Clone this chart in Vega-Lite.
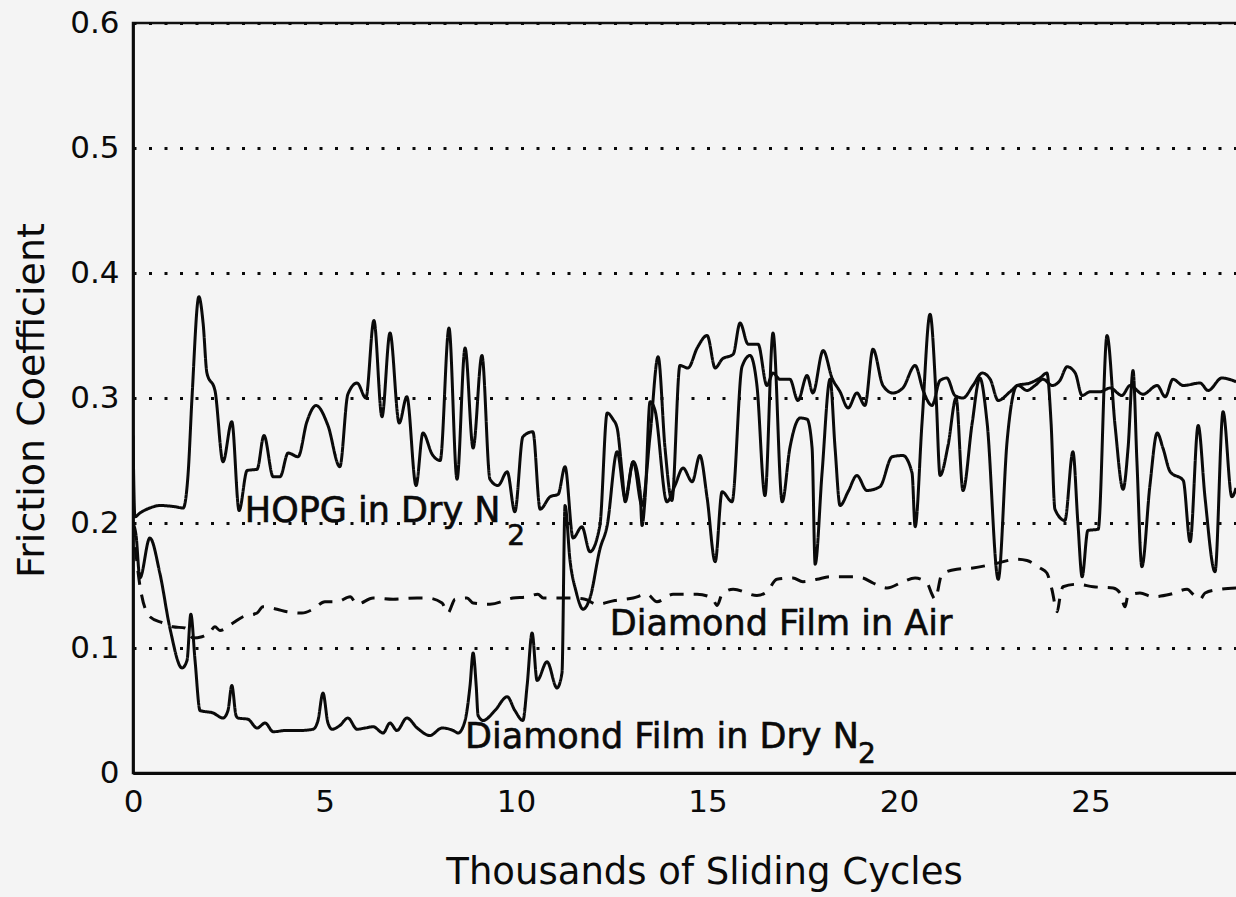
{
"$schema": "https://vega.github.io/schema/vega-lite/v6.json",
"width": 1105, "height": 750,
"autosize": {"type": "none"},
"padding": {"left": 133, "top": 23, "right": 0, "bottom": 124},
"background": "#f4f4f4",
"config": {"view": {"stroke": "#111", "strokeWidth": 2.5}, "font": "DejaVu Sans"},
"datasets": {
"curves": [
{"s":"HOPG","x":0,"y":0.27},{"s":"HOPG","x":0.05,"y":0.205},{"s":"HOPG","x":0.18,"y":0.208},{"s":"HOPG","x":0.44,"y":0.212},{"s":"HOPG","x":0.70,"y":0.214},{"s":"HOPG","x":1.10,"y":0.213},{"s":"HOPG","x":1.31,"y":0.212},{"s":"HOPG","x":1.44,"y":0.24},{"s":"HOPG","x":1.54,"y":0.3},{"s":"HOPG","x":1.72,"y":0.381},{"s":"HOPG","x":1.83,"y":0.36},{"s":"HOPG","x":1.93,"y":0.32},{"s":"HOPG","x":2.14,"y":0.306},{"s":"HOPG","x":2.35,"y":0.249},{"s":"HOPG","x":2.58,"y":0.281},{"s":"HOPG","x":2.77,"y":0.21},{"s":"HOPG","x":2.98,"y":0.242},{"s":"HOPG","x":3.24,"y":0.243},{"s":"HOPG","x":3.42,"y":0.27},{"s":"HOPG","x":3.66,"y":0.237},{"s":"HOPG","x":3.84,"y":0.237},{"s":"HOPG","x":4.05,"y":0.256},{"s":"HOPG","x":4.31,"y":0.253},{"s":"HOPG","x":4.54,"y":0.281},{"s":"HOPG","x":4.78,"y":0.294},{"s":"HOPG","x":5.09,"y":0.278},{"s":"HOPG","x":5.40,"y":0.245},{"s":"HOPG","x":5.61,"y":0.303},{"s":"HOPG","x":5.85,"y":0.312},{"s":"HOPG","x":6.08,"y":0.3},{"s":"HOPG","x":6.29,"y":0.362},{"s":"HOPG","x":6.50,"y":0.285},{"s":"HOPG","x":6.71,"y":0.352},{"s":"HOPG","x":6.95,"y":0.28},{"s":"HOPG","x":7.15,"y":0.301},{"s":"HOPG","x":7.39,"y":0.23},{"s":"HOPG","x":7.57,"y":0.272},{"s":"HOPG","x":7.81,"y":0.255},{"s":"HOPG","x":8.02,"y":0.25},{"s":"HOPG","x":8.25,"y":0.356},{"s":"HOPG","x":8.46,"y":0.235},{"s":"HOPG","x":8.67,"y":0.34},{"s":"HOPG","x":8.88,"y":0.26},{"s":"HOPG","x":9.11,"y":0.334},{"s":"HOPG","x":9.32,"y":0.235},{"s":"HOPG","x":9.53,"y":0.23},{"s":"HOPG","x":9.77,"y":0.241},{"s":"HOPG","x":9.97,"y":0.209},{"s":"HOPG","x":10.18,"y":0.269},{"s":"HOPG","x":10.44,"y":0.273},{"s":"HOPG","x":10.63,"y":0.211},{"s":"HOPG","x":10.89,"y":0.221},{"s":"HOPG","x":11.10,"y":0.223},{"s":"HOPG","x":11.28,"y":0.245},{"s":"HOPG","x":11.49,"y":0.188},{"s":"HOPG","x":11.72,"y":0.197},{"s":"HOPG","x":11.93,"y":0.177},{"s":"HOPG","x":12.19,"y":0.198},{"s":"HOPG","x":12.38,"y":0.288},{"s":"HOPG","x":12.53,"y":0.283},{"s":"HOPG","x":12.64,"y":0.276},{"s":"HOPG","x":12.77,"y":0.24},{"s":"HOPG","x":12.85,"y":0.217},{"s":"HOPG","x":13.06,"y":0.249},{"s":"HOPG","x":13.29,"y":0.214},{"s":"HOPG","x":13.50,"y":0.27},{"s":"HOPG","x":13.71,"y":0.333},{"s":"HOPG","x":13.89,"y":0.26},{"s":"HOPG","x":14.07,"y":0.218},{"s":"HOPG","x":14.28,"y":0.326},{"s":"HOPG","x":14.49,"y":0.324},{"s":"HOPG","x":14.73,"y":0.34},{"s":"HOPG","x":14.99,"y":0.35},{"s":"HOPG","x":15.20,"y":0.324},{"s":"HOPG","x":15.38,"y":0.331},{"s":"HOPG","x":15.67,"y":0.335},{"s":"HOPG","x":15.85,"y":0.36},{"s":"HOPG","x":16.06,"y":0.343},{"s":"HOPG","x":16.32,"y":0.343},{"s":"HOPG","x":16.55,"y":0.31},{"s":"HOPG","x":16.71,"y":0.32},{"s":"HOPG","x":16.89,"y":0.315},{"s":"HOPG","x":17.15,"y":0.315},{"s":"HOPG","x":17.36,"y":0.298},{"s":"HOPG","x":17.60,"y":0.318},{"s":"HOPG","x":17.75,"y":0.304},{"s":"HOPG","x":18.02,"y":0.338},{"s":"HOPG","x":18.25,"y":0.316},{"s":"HOPG","x":18.46,"y":0.305},{"s":"HOPG","x":18.67,"y":0.292},{"s":"HOPG","x":18.90,"y":0.304},{"s":"HOPG","x":19.11,"y":0.294},{"s":"HOPG","x":19.32,"y":0.339},{"s":"HOPG","x":19.58,"y":0.31},{"s":"HOPG","x":19.84,"y":0.304},{"s":"HOPG","x":20.10,"y":0.308},{"s":"HOPG","x":20.42,"y":0.326},{"s":"HOPG","x":20.63,"y":0.306},{"s":"HOPG","x":20.86,"y":0.294},{"s":"HOPG","x":21.07,"y":0.314},{"s":"HOPG","x":21.25,"y":0.316},{"s":"HOPG","x":21.46,"y":0.302},{"s":"HOPG","x":21.67,"y":0.3},{"s":"HOPG","x":21.93,"y":0.31},{"s":"HOPG","x":22.17,"y":0.32},{"s":"HOPG","x":22.38,"y":0.315},{"s":"HOPG","x":22.59,"y":0.298},{"s":"HOPG","x":22.90,"y":0.305},{"s":"HOPG","x":23.11,"y":0.31},{"s":"HOPG","x":23.34,"y":0.306},{"s":"HOPG","x":23.55,"y":0.31},{"s":"HOPG","x":23.76,"y":0.315},{"s":"HOPG","x":24.00,"y":0.31},{"s":"HOPG","x":24.20,"y":0.314},{"s":"HOPG","x":24.39,"y":0.325},{"s":"HOPG","x":24.60,"y":0.32},{"s":"HOPG","x":24.78,"y":0.302},{"s":"HOPG","x":24.99,"y":0.305},{"s":"HOPG","x":25.25,"y":0.305},{"s":"HOPG","x":25.51,"y":0.308},{"s":"HOPG","x":25.82,"y":0.302},{"s":"HOPG","x":26.03,"y":0.31},{"s":"HOPG","x":26.37,"y":0.303},{"s":"HOPG","x":26.74,"y":0.31},{"s":"HOPG","x":26.95,"y":0.301},{"s":"HOPG","x":27.15,"y":0.315},{"s":"HOPG","x":27.42,"y":0.31},{"s":"HOPG","x":27.86,"y":0.312},{"s":"HOPG","x":28.07,"y":0.306},{"s":"HOPG","x":28.43,"y":0.316},{"s":"HOPG","x":28.80,"y":0.313},
{"s":"DN2","x":0,"y":0.2},{"s":"DN2","x":0.08,"y":0.19},{"s":"DN2","x":0.18,"y":0.156},{"s":"DN2","x":0.44,"y":0.188},{"s":"DN2","x":0.70,"y":0.16},{"s":"DN2","x":0.97,"y":0.115},{"s":"DN2","x":1.28,"y":0.084},{"s":"DN2","x":1.41,"y":0.09},{"s":"DN2","x":1.51,"y":0.127},{"s":"DN2","x":1.62,"y":0.09},{"s":"DN2","x":1.75,"y":0.05},{"s":"DN2","x":2.09,"y":0.048},{"s":"DN2","x":2.35,"y":0.044},{"s":"DN2","x":2.48,"y":0.05},{"s":"DN2","x":2.58,"y":0.07},{"s":"DN2","x":2.69,"y":0.046},{"s":"DN2","x":2.74,"y":0.044},{"s":"DN2","x":3.00,"y":0.043},{"s":"DN2","x":3.24,"y":0.036},{"s":"DN2","x":3.45,"y":0.04},{"s":"DN2","x":3.66,"y":0.033},{"s":"DN2","x":3.99,"y":0.034},{"s":"DN2","x":4.36,"y":0.034},{"s":"DN2","x":4.70,"y":0.035},{"s":"DN2","x":4.83,"y":0.042},{"s":"DN2","x":4.96,"y":0.064},{"s":"DN2","x":5.09,"y":0.04},{"s":"DN2","x":5.20,"y":0.035},{"s":"DN2","x":5.40,"y":0.038},{"s":"DN2","x":5.61,"y":0.044},{"s":"DN2","x":5.85,"y":0.035},{"s":"DN2","x":6.06,"y":0.036},{"s":"DN2","x":6.27,"y":0.037},{"s":"DN2","x":6.53,"y":0.032},{"s":"DN2","x":6.71,"y":0.04},{"s":"DN2","x":6.89,"y":0.034},{"s":"DN2","x":7.15,"y":0.044},{"s":"DN2","x":7.42,"y":0.036},{"s":"DN2","x":7.75,"y":0.03},{"s":"DN2","x":8.07,"y":0.036},{"s":"DN2","x":8.36,"y":0.034},{"s":"DN2","x":8.49,"y":0.032},{"s":"DN2","x":8.67,"y":0.042},{"s":"DN2","x":8.80,"y":0.07},{"s":"DN2","x":8.88,"y":0.096},{"s":"DN2","x":8.96,"y":0.07},{"s":"DN2","x":9.01,"y":0.046},{"s":"DN2","x":9.14,"y":0.042},{"s":"DN2","x":9.45,"y":0.05},{"s":"DN2","x":9.77,"y":0.061},{"s":"DN2","x":9.97,"y":0.05},{"s":"DN2","x":10.18,"y":0.042},{"s":"DN2","x":10.29,"y":0.07},{"s":"DN2","x":10.42,"y":0.112},{"s":"DN2","x":10.55,"y":0.074},{"s":"DN2","x":10.81,"y":0.089},{"s":"DN2","x":11.07,"y":0.068},{"s":"DN2","x":11.20,"y":0.08},{"s":"DN2","x":11.28,"y":0.214},{"s":"DN2","x":11.41,"y":0.17},{"s":"DN2","x":11.57,"y":0.145},{"s":"DN2","x":11.75,"y":0.131},{"s":"DN2","x":11.93,"y":0.14},{"s":"DN2","x":12.19,"y":0.179},{"s":"DN2","x":12.38,"y":0.198},{"s":"DN2","x":12.64,"y":0.257},{"s":"DN2","x":12.85,"y":0.22},{"s":"DN2","x":13.06,"y":0.249},{"s":"DN2","x":13.24,"y":0.225},{"s":"DN2","x":13.29,"y":0.198},{"s":"DN2","x":13.37,"y":0.22},{"s":"DN2","x":13.50,"y":0.297},{"s":"DN2","x":13.63,"y":0.29},{"s":"DN2","x":13.94,"y":0.217},{"s":"DN2","x":14.15,"y":0.23},{"s":"DN2","x":14.36,"y":0.244},{"s":"DN2","x":14.60,"y":0.233},{"s":"DN2","x":14.80,"y":0.254},{"s":"DN2","x":14.99,"y":0.22},{"s":"DN2","x":15.20,"y":0.169},{"s":"DN2","x":15.38,"y":0.225},{"s":"DN2","x":15.64,"y":0.217},{"s":"DN2","x":15.90,"y":0.325},{"s":"DN2","x":16.11,"y":0.334},{"s":"DN2","x":16.29,"y":0.31},{"s":"DN2","x":16.50,"y":0.222},{"s":"DN2","x":16.71,"y":0.352},{"s":"DN2","x":16.95,"y":0.217},{"s":"DN2","x":17.15,"y":0.26},{"s":"DN2","x":17.42,"y":0.284},{"s":"DN2","x":17.60,"y":0.283},{"s":"DN2","x":17.73,"y":0.26},{"s":"DN2","x":17.81,"y":0.167},{"s":"DN2","x":17.99,"y":0.24},{"s":"DN2","x":18.20,"y":0.315},{"s":"DN2","x":18.33,"y":0.26},{"s":"DN2","x":18.46,"y":0.214},{"s":"DN2","x":18.67,"y":0.225},{"s":"DN2","x":18.90,"y":0.238},{"s":"DN2","x":19.16,"y":0.226},{"s":"DN2","x":19.50,"y":0.229},{"s":"DN2","x":19.82,"y":0.253},{"s":"DN2","x":20.10,"y":0.254},{"s":"DN2","x":20.34,"y":0.24},{"s":"DN2","x":20.42,"y":0.197},{"s":"DN2","x":20.60,"y":0.28},{"s":"DN2","x":20.81,"y":0.367},{"s":"DN2","x":20.97,"y":0.3},{"s":"DN2","x":21.07,"y":0.238},{"s":"DN2","x":21.28,"y":0.262},{"s":"DN2","x":21.49,"y":0.3},{"s":"DN2","x":21.67,"y":0.226},{"s":"DN2","x":21.91,"y":0.28},{"s":"DN2","x":22.11,"y":0.316},{"s":"DN2","x":22.30,"y":0.28},{"s":"DN2","x":22.59,"y":0.155},{"s":"DN2","x":22.82,"y":0.265},{"s":"DN2","x":23.08,"y":0.31},{"s":"DN2","x":23.42,"y":0.312},{"s":"DN2","x":23.68,"y":0.316},{"s":"DN2","x":23.86,"y":0.32},{"s":"DN2","x":23.97,"y":0.28},{"s":"DN2","x":24.07,"y":0.211},{"s":"DN2","x":24.33,"y":0.202},{"s":"DN2","x":24.54,"y":0.257},{"s":"DN2","x":24.67,"y":0.2},{"s":"DN2","x":24.78,"y":0.157},{"s":"DN2","x":24.93,"y":0.194},{"s":"DN2","x":25.20,"y":0.195},{"s":"DN2","x":25.43,"y":0.35},{"s":"DN2","x":25.64,"y":0.278},{"s":"DN2","x":25.85,"y":0.227},{"s":"DN2","x":25.98,"y":0.26},{"s":"DN2","x":26.11,"y":0.322},{"s":"DN2","x":26.21,"y":0.25},{"s":"DN2","x":26.34,"y":0.165},{"s":"DN2","x":26.55,"y":0.23},{"s":"DN2","x":26.74,"y":0.272},{"s":"DN2","x":26.89,"y":0.26},{"s":"DN2","x":27.08,"y":0.241},{"s":"DN2","x":27.42,"y":0.234},{"s":"DN2","x":27.60,"y":0.185},{"s":"DN2","x":27.81,"y":0.278},{"s":"DN2","x":27.99,"y":0.22},{"s":"DN2","x":28.25,"y":0.161},{"s":"DN2","x":28.46,"y":0.289},{"s":"DN2","x":28.69,"y":0.221},{"s":"DN2","x":28.80,"y":0.228},
{"s":"Air","x":0,"y":0.2},{"s":"Air","x":0.08,"y":0.175},{"s":"Air","x":0.18,"y":0.15},{"s":"Air","x":0.44,"y":0.125},{"s":"Air","x":0.78,"y":0.12},{"s":"Air","x":1.04,"y":0.117},{"s":"Air","x":1.36,"y":0.116},{"s":"Air","x":1.57,"y":0.108},{"s":"Air","x":1.80,"y":0.109},{"s":"Air","x":2.01,"y":0.113},{"s":"Air","x":2.14,"y":0.117},{"s":"Air","x":2.27,"y":0.114},{"s":"Air","x":2.61,"y":0.12},{"s":"Air","x":2.87,"y":0.125},{"s":"Air","x":3.24,"y":0.128},{"s":"Air","x":3.39,"y":0.133},{"s":"Air","x":3.76,"y":0.131},{"s":"Air","x":4.02,"y":0.129},{"s":"Air","x":4.41,"y":0.128},{"s":"Air","x":4.70,"y":0.131},{"s":"Air","x":5.01,"y":0.137},{"s":"Air","x":5.33,"y":0.137},{"s":"Air","x":5.67,"y":0.141},{"s":"Air","x":5.85,"y":0.135},{"s":"Air","x":6.27,"y":0.14},{"s":"Air","x":6.79,"y":0.139},{"s":"Air","x":7.42,"y":0.14},{"s":"Air","x":7.68,"y":0.14},{"s":"Air","x":8.07,"y":0.136},{"s":"Air","x":8.22,"y":0.128},{"s":"Air","x":8.41,"y":0.139},{"s":"Air","x":8.72,"y":0.14},{"s":"Air","x":8.88,"y":0.136},{"s":"Air","x":9.32,"y":0.135},{"s":"Air","x":9.92,"y":0.14},{"s":"Air","x":10.29,"y":0.141},{"s":"Air","x":10.57,"y":0.143},{"s":"Air","x":10.71,"y":0.14},{"s":"Air","x":11.41,"y":0.14},{"s":"Air","x":11.80,"y":0.139},{"s":"Air","x":12.11,"y":0.135},{"s":"Air","x":12.58,"y":0.138},{"s":"Air","x":13.06,"y":0.14},{"s":"Air","x":13.42,"y":0.143},{"s":"Air","x":13.68,"y":0.137},{"s":"Air","x":14.10,"y":0.143},{"s":"Air","x":14.73,"y":0.143},{"s":"Air","x":15.12,"y":0.14},{"s":"Air","x":15.25,"y":0.134},{"s":"Air","x":15.38,"y":0.143},{"s":"Air","x":15.67,"y":0.147},{"s":"Air","x":16.29,"y":0.142},{"s":"Air","x":16.55,"y":0.145},{"s":"Air","x":16.81,"y":0.155},{"s":"Air","x":17.23,"y":0.156},{"s":"Air","x":17.49,"y":0.153},{"s":"Air","x":17.86,"y":0.155},{"s":"Air","x":18.20,"y":0.157},{"s":"Air","x":18.80,"y":0.157},{"s":"Air","x":19.06,"y":0.156},{"s":"Air","x":19.32,"y":0.152},{"s":"Air","x":19.69,"y":0.148},{"s":"Air","x":20.10,"y":0.153},{"s":"Air","x":20.42,"y":0.156},{"s":"Air","x":20.73,"y":0.152},{"s":"Air","x":20.86,"y":0.143},{"s":"Air","x":20.94,"y":0.139},{"s":"Air","x":21.12,"y":0.159},{"s":"Air","x":21.51,"y":0.163},{"s":"Air","x":21.93,"y":0.164},{"s":"Air","x":22.45,"y":0.167},{"s":"Air","x":23.08,"y":0.171},{"s":"Air","x":23.34,"y":0.17},{"s":"Air","x":23.68,"y":0.164},{"s":"Air","x":23.86,"y":0.16},{"s":"Air","x":23.99,"y":0.147},{"s":"Air","x":24.13,"y":0.129},{"s":"Air","x":24.20,"y":0.14},{"s":"Air","x":24.28,"y":0.149},{"s":"Air","x":24.65,"y":0.151},{"s":"Air","x":25.07,"y":0.149},{"s":"Air","x":25.59,"y":0.148},{"s":"Air","x":25.77,"y":0.144},{"s":"Air","x":25.90,"y":0.133},{"s":"Air","x":25.98,"y":0.142},{"s":"Air","x":26.29,"y":0.144},{"s":"Air","x":26.63,"y":0.141},{"s":"Air","x":27.08,"y":0.143},{"s":"Air","x":27.52,"y":0.147},{"s":"Air","x":27.68,"y":0.143},{"s":"Air","x":27.86,"y":0.139},{"s":"Air","x":27.99,"y":0.144},{"s":"Air","x":28.38,"y":0.147},{"s":"Air","x":28.80,"y":0.148}
],
"labels": [
{"label":"HOPG in Dry N","x":2.92,"y":0.2008},
{"label":"Diamond Film in Air","x":12.45,"y":0.1104},
{"label":"Diamond Film in Dry N","x":8.67,"y":0.02}
],
"subs": [
{"label":"2","x":9.77,"y":0.1824},
{"label":"2","x":18.93,"y":0.008}
]
},
"layer": [
{
"data": {"name": "curves"},
"mark": {"type": "line", "interpolate": "monotone", "color": "#0a0a0a", "strokeWidth": 3, "clip": true},
"encoding": {
"x": {"field": "x", "type": "quantitative",
 "scale": {"domain": [0, 28.85], "nice": false, "zero": false},
 "axis": {"title": "Thousands of Sliding Cycles", "values": [0,5,10,15,20,25], "grid": false, "ticks": false,
  "domainColor": "#0a0a0a", "domainWidth": 2.8, "labelFont": "DejaVu Sans", "labelFontSize": 31, "labelColor": "#0a0a0a",
  "labelPadding": 14, "labelFlush": false, "titleFont": "DejaVu Sans", "titleFontSize": 37, "titleFontWeight": "normal",
  "titleColor": "#0a0a0a", "titleX": 571, "titleY": 110, "titleBaseline": "alphabetic", "titleAlign": "center"}},
"y": {"field": "y", "type": "quantitative",
 "scale": {"domain": [0, 0.6], "nice": false},
 "axis": {"title": "Friction Coefficient", "values": [0,0.1,0.2,0.3,0.4,0.5,0.6], "format": "~g", "grid": true,
  "gridColor": "#0a0a0a", "gridDash": [3, 12.5], "gridWidth": 3, "ticks": false, "domainColor": "#0a0a0a", "domainWidth": 2.8,
  "labelFont": "DejaVu Sans", "labelFontSize": 31, "labelColor": "#0a0a0a", "labelPadding": 14, "labelFlush": false,
  "titleFont": "DejaVu Sans", "titleFontSize": 38, "titleFontWeight": "normal", "titleColor": "#0a0a0a",
  "titleX": -90, "titleY": 377, "titleAngle": -90, "titleBaseline": "alphabetic", "titleAlign": "center"}},
"strokeDash": {"field": "s", "type": "nominal", "scale": {"domain": ["HOPG", "DN2", "Air"], "range": [[1, 0], [1, 0], [14, 10]]}, "legend": null}
}
},
{
"data": {"name": "labels"},
"mark": {"type": "text", "align": "left", "baseline": "alphabetic", "fontSize": 35, "font": "DejaVu Sans", "color": "#0a0a0a", "stroke": "#0a0a0a", "strokeWidth": 0.6},
"encoding": {"x": {"field": "x", "type": "quantitative"}, "y": {"field": "y", "type": "quantitative"}, "text": {"field": "label"}}
},
{
"data": {"name": "subs"},
"mark": {"type": "text", "align": "left", "baseline": "alphabetic", "fontSize": 28, "font": "DejaVu Sans", "color": "#0a0a0a", "stroke": "#0a0a0a", "strokeWidth": 0.6},
"encoding": {"x": {"field": "x", "type": "quantitative"}, "y": {"field": "y", "type": "quantitative"}, "text": {"field": "label"}}
}
]
}
